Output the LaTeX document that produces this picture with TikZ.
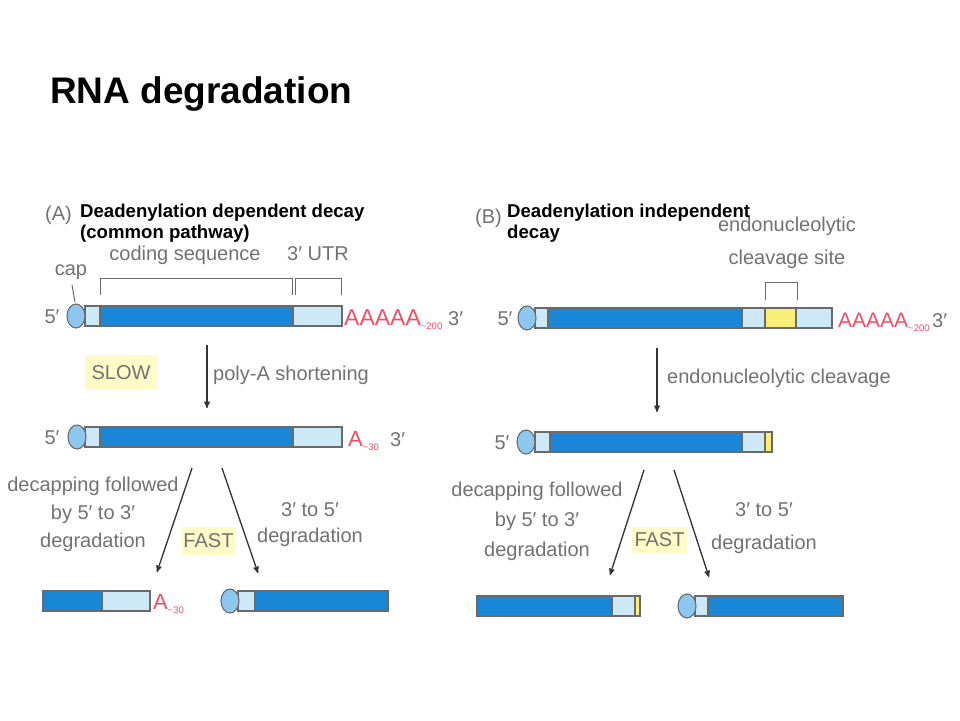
\documentclass[tikz,border=0pt]{standalone}
\usepackage{fontspec}
\setmainfont{Liberation Sans}
\usetikzlibrary{arrows}
\definecolor{CdsBlue}{HTML}{1A86D8}
\definecolor{UtrBlue}{HTML}{CDE8F7}
\definecolor{CapBlue}{HTML}{8DC7EE}
\definecolor{SiteYellow}{HTML}{F8EE78}
\definecolor{RateYellow}{HTML}{FFFBC6}
\definecolor{PolyRed}{HTML}{EF4F68}
\definecolor{TextGray}{HTML}{727272}
\definecolor{EdgeGray}{HTML}{6A6A6A}
\newcommand{\tailsub}[1]{\raisebox{-4.5pt}{\fontsize{9.5}{10}\selectfont\textasciitilde#1}}

\begin{document}
\begin{tikzpicture}[x=1pt, y=-1pt, >=stealth']
    \tikzstyle{TitleStyle}=[font        = \fontsize{37}{40}\selectfont\bfseries,
                            inner sep   = 0pt]
    \tikzstyle{HeadStyle}=[font         = \fontsize{18.6}{21}\selectfont\bfseries,
                           align        = left,
                           inner sep    = 0pt]
    \tikzstyle{LabelStyle}=[text        = TextGray,
                            font        = \fontsize{20}{28}\selectfont,
                            inner sep   = 0pt]
    \tikzstyle{PolyStyle}=[text         = PolyRed,
                           inner sep    = 0pt]
    \tikzstyle{RateStyle}=[LabelStyle,
                           fill         = RateYellow]
    \tikzstyle{CdsStyle}=[fill          = CdsBlue,
                          draw          = EdgeGray,
                          line width    = 1.1pt]
    \tikzstyle{UtrStyle}=[fill          = UtrBlue,
                          draw          = EdgeGray,
                          line width    = 1.1pt]
    \tikzstyle{SiteStyle}=[fill         = SiteYellow,
                           draw         = EdgeGray,
                           line width   = 1.1pt]
    \tikzstyle{CapStyle}=[fill          = CapBlue,
                          draw          = EdgeGray,
                          line width    = 1.1pt]
    \tikzstyle{BracketStyle}=[draw      = EdgeGray,
                              line width = 1pt]
    \tikzstyle{StepArrow}=[->,
                           draw         = black!80,
                           line width   = 1.3pt]
    \fill[white] (0,0) rectangle (960,720);
    \useasboundingbox (0,0) rectangle (960,720);

    \node[TitleStyle, anchor=base west] (title) at (50,103) {RNA degradation};

    % (A) deadenylation dependent
    \node[LabelStyle, anchor=base west] (tagA) at (45,220) {(A)};
    \node[HeadStyle, anchor=north west] (headA) at (80,204)
        {Deadenylation dependent decay\\(common pathway)};
    \node[LabelStyle, anchor=base] (capA) at (71,275) {cap};
    \node[LabelStyle, anchor=base] (cdsA) at (185,260) {coding sequence};
    \node[LabelStyle, anchor=base] (utrA) at (318,260) {3′ UTR};
    \draw[BracketStyle] (100,295) -- (100,278) -- (292,278) -- (292,295);
    \draw[BracketStyle] (295,295) -- (295,278) -- (341,278) -- (341,295);
    \draw[BracketStyle] (72,285) -- (75,302);

    \node[LabelStyle, anchor=base] (fiveA1) at (52,323) {5′};
    \draw[UtrStyle] (85,306) rectangle (100,326);
    \draw[CdsStyle] (100,306) rectangle (293,326);
    \draw[UtrStyle] (293,306) rectangle (342,326);
    \draw[CapStyle] (76,316) ellipse [x radius=9, y radius=12];
    \node[PolyStyle, font=\fontsize{23}{23}\selectfont, anchor=base west] (polyA1)
        at (344,325) {AAAAA\tailsub{200}};
    \node[LabelStyle, anchor=base west] (threeA1) at (448,325) {3′};

    \coordinate (A1out) at (207,345);
    \coordinate (A2in) at (207,408);
    \draw[StepArrow] (A1out) -- (A2in);
    \node[LabelStyle, anchor=base west] (shortA) at (213,380) {poly-A shortening};
    \node[RateStyle, minimum width=72, minimum height=35] (slowA) at (121,372.5) {SLOW};

    \node[LabelStyle, anchor=base] (fiveA2) at (52,444) {5′};
    \draw[UtrStyle] (85,427) rectangle (100,447);
    \draw[CdsStyle] (100,427) rectangle (293,447);
    \draw[UtrStyle] (293,427) rectangle (342,447);
    \draw[CapStyle] (77,437) ellipse [x radius=9, y radius=12];
    \node[PolyStyle, font=\fontsize{22}{22}\selectfont, anchor=base west] (polyA2)
        at (348,446) {A\tailsub{30}};
    \node[LabelStyle, anchor=base west] (threeA2) at (390,446) {3′};

    \coordinate (A2left) at (192,468);
    \coordinate (A3left) at (157,572);
    \coordinate (A2right) at (222,468);
    \coordinate (A3right) at (258,573);
    \draw[StepArrow] (A2left) -- (A3left);
    \draw[StepArrow] (A2right) -- (A3right);
    \node[LabelStyle, align=center, anchor=north] (decapA) at (93,477)
        {decapping followed\\by 5′ to 3′\\degradation};
    \node[LabelStyle, align=center, anchor=north,
          font=\fontsize{20}{26}\selectfont] (exoA) at (310,502.5)
        {3′ to 5′\\degradation};
    \node[RateStyle, minimum width=53, minimum height=28] (fastA) at (208.5,541) {FAST};

    \draw[CdsStyle] (43,591) rectangle (102,611);
    \draw[UtrStyle] (102,591) rectangle (150,611);
    \node[PolyStyle, font=\fontsize{22}{22}\selectfont, anchor=base west] (polyA3)
        at (153,609) {A\tailsub{30}};
    \draw[UtrStyle] (238,591) rectangle (255,611);
    \draw[CdsStyle] (255,591) rectangle (388,611);
    \draw[CapStyle] (230,601) ellipse [x radius=9, y radius=12];

    % (B) deadenylation independent
    \node[LabelStyle, anchor=base west] (tagB) at (475,223) {(B)};
    \node[LabelStyle, align=center, anchor=north,
          font=\fontsize{20}{33}\selectfont] (siteB) at (787,216.5)
        {endonucleolytic\\cleavage site};
    \node[HeadStyle, anchor=north west] (headB) at (507,204)
        {Deadenylation independent\\decay};
    \draw[BracketStyle] (765,300) -- (765,282) -- (797,282) -- (797,300);

    \node[LabelStyle, anchor=base] (fiveB1) at (505,325) {5′};
    \draw[UtrStyle] (535,308) rectangle (548,328);
    \draw[CdsStyle] (548,308) rectangle (742,328);
    \draw[UtrStyle] (742,308) rectangle (765,328);
    \draw[SiteStyle] (765,308) rectangle (796,328);
    \draw[UtrStyle] (796,308) rectangle (832,328);
    \draw[CapStyle] (527,318) ellipse [x radius=9, y radius=12];
    \node[PolyStyle, font=\fontsize{21}{21}\selectfont, anchor=base west] (polyB1)
        at (838,327) {AAAAA\tailsub{200}};
    \node[LabelStyle, anchor=base west] (threeB1) at (932,327) {3′};

    \coordinate (B1out) at (657,348);
    \coordinate (B2in) at (657,412);
    \draw[StepArrow] (B1out) -- (B2in);
    \node[LabelStyle, anchor=base west] (cutB) at (667,383) {endonucleolytic cleavage};

    \node[LabelStyle, anchor=base] (fiveB2) at (502,449) {5′};
    \draw[UtrStyle] (535,432) rectangle (550,452);
    \draw[CdsStyle] (550,432) rectangle (742,452);
    \draw[UtrStyle] (742,432) rectangle (765,452);
    \draw[SiteStyle] (765,432) rectangle (772,452);
    \draw[CapStyle] (526,442) ellipse [x radius=9, y radius=12];

    \coordinate (B2left) at (644,470);
    \coordinate (B3left) at (610,575);
    \coordinate (B2right) at (674,470);
    \coordinate (B3right) at (709,577);
    \draw[StepArrow] (B2left) -- (B3left);
    \draw[StepArrow] (B2right) -- (B3right);
    \node[LabelStyle, align=center, anchor=north,
          font=\fontsize{20}{30}\selectfont] (decapB) at (537,482)
        {decapping followed\\by 5′ to 3′\\degradation};
    \node[LabelStyle, align=center, anchor=north,
          font=\fontsize{20}{33}\selectfont] (exoB) at (764,502.5)
        {3′ to 5′\\degradation};
    \node[RateStyle, minimum width=55, minimum height=26] (fastB) at (659.5,540) {FAST};

    \draw[CdsStyle] (477,596) rectangle (612,616);
    \draw[UtrStyle] (612,596) rectangle (635,616);
    \draw[SiteStyle] (635,596) rectangle (640,616);
    \draw[UtrStyle] (695,596) rectangle (708,616);
    \draw[CdsStyle] (708,596) rectangle (843,616);
    \draw[CapStyle] (687,606) ellipse [x radius=9, y radius=12];
\end{tikzpicture}
\end{document}
